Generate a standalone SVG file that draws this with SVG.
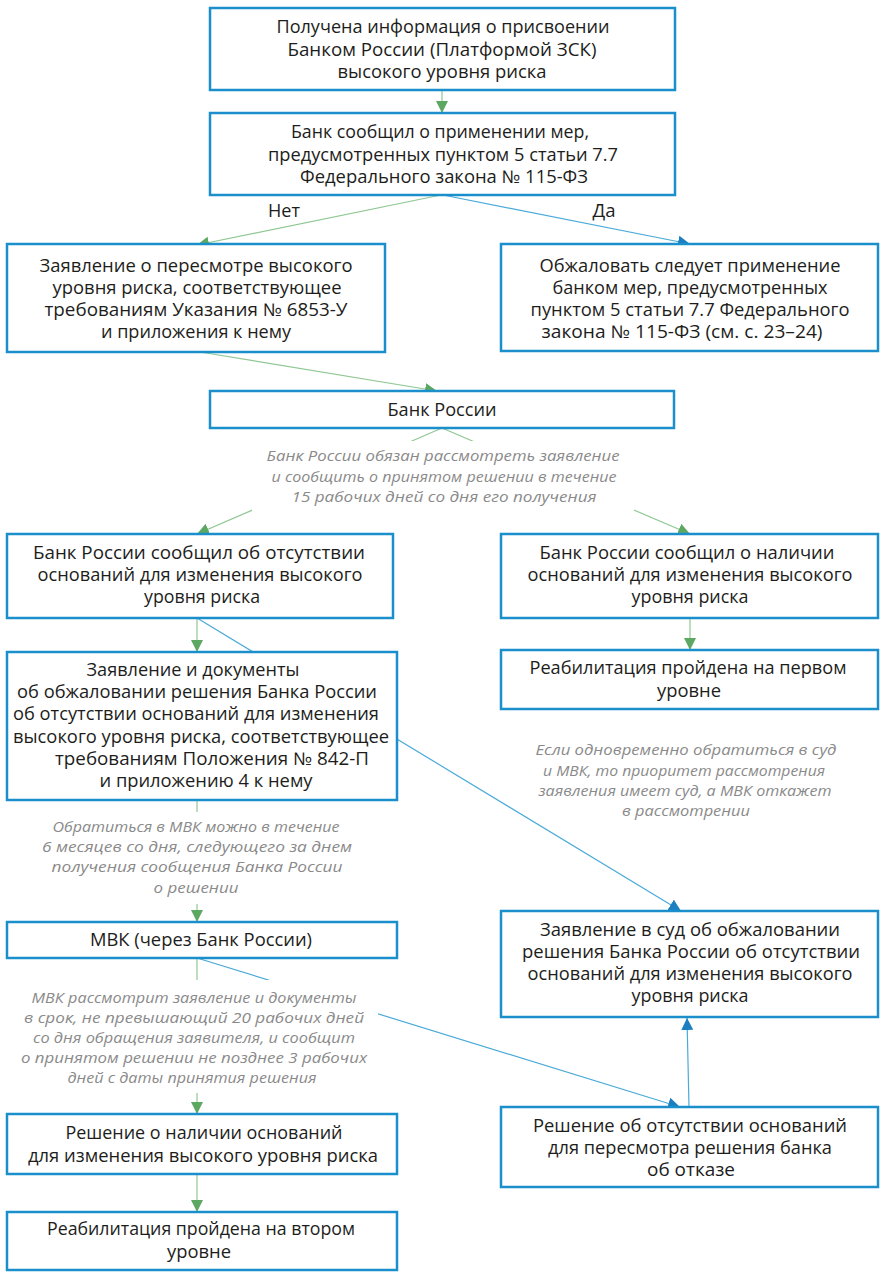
<svg xmlns="http://www.w3.org/2000/svg" width="886" height="1278" viewBox="0 0 886 1278">
<defs>
<style>
.box{fill:#ffffff;stroke:#1b8fcb;stroke-width:2.5}
.t{font-family:"Open Sans","DejaVu Sans",sans-serif;font-size:17.5px;fill:#1d1d1b;text-anchor:middle}
.i{font-family:"Open Sans","DejaVu Sans",sans-serif;font-size:15px;font-style:italic;fill:#8a8a8a;text-anchor:middle}
.g{stroke:#8fc893;stroke-width:1.2;fill:none}
.b{stroke:#4aaad8;stroke-width:1.2;fill:none}
.bg{fill:#ffffff;stroke:none}
</style>
<marker id="ag" viewBox="0 0 12 12" refX="12" refY="6" markerWidth="12" markerHeight="12" markerUnits="userSpaceOnUse" orient="auto">
<path d="M0,0 L12,6 L0,12 z" fill="#5ca862"/>
</marker>
<marker id="ab" viewBox="0 0 12 12" refX="12" refY="6" markerWidth="12" markerHeight="12" markerUnits="userSpaceOnUse" orient="auto">
<path d="M0,0 L12,6 L0,12 z" fill="#1b7fc0"/>
</marker>
</defs>
<rect x="0" y="0" width="886" height="1278" fill="#ffffff"/>

<g id="connectors">
<line class="g" x1="442" y1="90" x2="442" y2="113" marker-end="url(#ag)"/>
<line class="g" x1="441" y1="195" x2="197" y2="245" marker-end="url(#ag)"/>
<line class="b" x1="443" y1="195" x2="690" y2="244" marker-end="url(#ab)"/>
<line class="g" x1="200" y1="352" x2="437" y2="391" marker-end="url(#ag)"/>
<line class="g" x1="442" y1="428" x2="197" y2="534" marker-end="url(#ag)"/>
<line class="g" x1="442" y1="428" x2="690" y2="534" marker-end="url(#ag)"/>
<line class="g" x1="690" y1="618" x2="690" y2="650" marker-end="url(#ag)"/>
<line class="g" x1="197" y1="618" x2="197" y2="652" marker-end="url(#ag)"/>
<line class="b" x1="197" y1="618" x2="681" y2="911" marker-end="url(#ab)"/>
<line class="g" x1="197" y1="800" x2="197" y2="922" marker-end="url(#ag)"/>
<line class="b" x1="197" y1="958" x2="680" y2="1107" marker-end="url(#ab)"/>
<line class="g" x1="197" y1="958" x2="197" y2="1114" marker-end="url(#ag)"/>
<line class="b" x1="689" y1="1107" x2="687" y2="1018" marker-end="url(#ab)"/>
<line class="g" x1="197" y1="1174" x2="197" y2="1212" marker-end="url(#ag)"/>
</g>

<g id="label-yes-no">
<text class="t" x="284" y="217" textLength="32" lengthAdjust="spacingAndGlyphs">Нет</text>
<text class="t" x="604" y="217" textLength="23" lengthAdjust="spacingAndGlyphs">Да</text>
</g>

<g id="note-bank15">
<rect class="bg" x="252" y="441" width="382" height="70"/>
<text class="i" x="443" y="461" textLength="353" lengthAdjust="spacingAndGlyphs">Банк России обязан рассмотреть заявление</text>
<text class="i" x="444" y="482" textLength="345" lengthAdjust="spacingAndGlyphs">и сообщить о принятом решении в течение</text>
<text class="i" x="444" y="502" textLength="305" lengthAdjust="spacingAndGlyphs">15 рабочих дней со дня его получения</text>
</g>

<g id="note-mvk6">
<rect class="bg" x="30" y="812" width="340" height="92"/>
<text class="i" x="196" y="832" textLength="287" lengthAdjust="spacingAndGlyphs">Обратиться в МВК можно в течение</text>
<text class="i" x="197" y="852" textLength="310" lengthAdjust="spacingAndGlyphs">6 месяцев со дня, следующего за днем</text>
<text class="i" x="197" y="872" textLength="291" lengthAdjust="spacingAndGlyphs">получения сообщения Банка России</text>
<text class="i" x="196" y="893" textLength="85" lengthAdjust="spacingAndGlyphs">о решении</text>
</g>

<g id="note-mvk20">
<rect class="bg" x="15" y="980" width="363" height="113"/>
<text class="i" x="194" y="1003" textLength="325" lengthAdjust="spacingAndGlyphs">МВК рассмотрит заявление и документы</text>
<text class="i" x="194" y="1023" textLength="340" lengthAdjust="spacingAndGlyphs">в срок, не превышающий 20 рабочих дней</text>
<text class="i" x="194" y="1043" textLength="322" lengthAdjust="spacingAndGlyphs">со дня обращения заявителя, и сообщит</text>
<text class="i" x="194" y="1063" textLength="346" lengthAdjust="spacingAndGlyphs">о принятом решении не позднее 3 рабочих</text>
<text class="i" x="192" y="1083" textLength="249" lengthAdjust="spacingAndGlyphs">дней с даты принятия решения</text>
</g>

<g id="note-court">
<text class="i" x="686" y="755" textLength="301" lengthAdjust="spacingAndGlyphs">Если одновременно обратиться в суд</text>
<text class="i" x="684" y="776" textLength="282" lengthAdjust="spacingAndGlyphs">и МВК, то приоритет рассмотрения</text>
<text class="i" x="685" y="796" textLength="293" lengthAdjust="spacingAndGlyphs">заявления имеет суд, а МВК откажет</text>
<text class="i" x="686" y="816" textLength="128" lengthAdjust="spacingAndGlyphs">в рассмотрении</text>
</g>

<g id="n1">
<rect class="box" x="210" y="8" width="465" height="82"/>
<text class="t" x="443" y="33" textLength="333" lengthAdjust="spacingAndGlyphs">Получена информация о присвоении</text>
<text class="t" x="442" y="56" textLength="309" lengthAdjust="spacingAndGlyphs">Банком России (Платформой ЗСК)</text>
<text class="t" x="442" y="78" textLength="209" lengthAdjust="spacingAndGlyphs">высокого уровня риска</text>
</g>

<g id="n2">
<rect class="box" x="210" y="113" width="465" height="82"/>
<text class="t" x="440" y="138" textLength="298" lengthAdjust="spacingAndGlyphs">Банк сообщил о применении мер,</text>
<text class="t" x="443" y="161" textLength="350" lengthAdjust="spacingAndGlyphs">предусмотренных пунктом 5 статьи 7.7</text>
<text class="t" x="444" y="183" textLength="288" lengthAdjust="spacingAndGlyphs">Федерального закона № 115-ФЗ</text>
</g>

<g id="n3">
<rect class="box" x="7" y="244" width="378" height="108"/>
<text class="t" x="196" y="272" textLength="313" lengthAdjust="spacingAndGlyphs">Заявление о пересмотре высокого</text>
<text class="t" x="197" y="294" textLength="289" lengthAdjust="spacingAndGlyphs">уровня риска, соответствующее</text>
<text class="t" x="196" y="316" textLength="303" lengthAdjust="spacingAndGlyphs">требованиям Указания № 6853-У</text>
<text class="t" x="196" y="338" textLength="190" lengthAdjust="spacingAndGlyphs">и приложения к нему</text>
</g>

<g id="n4">
<rect class="box" x="501" y="244" width="377" height="107"/>
<text class="t" x="690" y="272" textLength="301" lengthAdjust="spacingAndGlyphs">Обжаловать следует применение</text>
<text class="t" x="690" y="294" textLength="275" lengthAdjust="spacingAndGlyphs">банком мер, предусмотренных</text>
<text class="t" x="690" y="316" textLength="319" lengthAdjust="spacingAndGlyphs">пунктом 5 статьи 7.7 Федерального</text>
<text class="t" x="682" y="338" textLength="281" lengthAdjust="spacingAndGlyphs">закона № 115-ФЗ (см. с. 23–24)</text>
</g>

<g id="n5">
<rect class="box" x="210" y="391" width="464" height="37"/>
<text class="t" x="442" y="416" textLength="109" lengthAdjust="spacingAndGlyphs">Банк России</text>
</g>

<g id="n6">
<rect class="box" x="7" y="534" width="386" height="84"/>
<text class="t" x="199" y="559" textLength="332" lengthAdjust="spacingAndGlyphs">Банк России сообщил об отсутствии</text>
<text class="t" x="200" y="581" textLength="325" lengthAdjust="spacingAndGlyphs">оснований для изменения высокого</text>
<text class="t" x="202" y="603" textLength="116" lengthAdjust="spacingAndGlyphs">уровня риска</text>
</g>

<g id="n7">
<rect class="box" x="501" y="534" width="377" height="84"/>
<text class="t" x="687" y="559" textLength="295" lengthAdjust="spacingAndGlyphs">Банк России сообщил о наличии</text>
<text class="t" x="690" y="581" textLength="325" lengthAdjust="spacingAndGlyphs">оснований для изменения высокого</text>
<text class="t" x="690" y="603" textLength="117" lengthAdjust="spacingAndGlyphs">уровня риска</text>
</g>

<g id="n8">
<rect class="box" x="501" y="650" width="377" height="59"/>
<text class="t" x="688" y="674" textLength="317" lengthAdjust="spacingAndGlyphs">Реабилитация пройдена на первом</text>
<text class="t" x="689" y="697" textLength="64" lengthAdjust="spacingAndGlyphs">уровне</text>
</g>

<g id="n9">
<rect class="box" x="7" y="652" width="390" height="148"/>
<text class="t" x="193" y="676" textLength="213" lengthAdjust="spacingAndGlyphs">Заявление и документы</text>
<text class="t" x="197" y="698" textLength="360" lengthAdjust="spacingAndGlyphs">об обжаловании решения Банка России</text>
<text class="t" x="196" y="720" textLength="366" lengthAdjust="spacingAndGlyphs">об отсутствии оснований для изменения</text>
<text class="t" x="201" y="743" textLength="376" lengthAdjust="spacingAndGlyphs">высокого уровня риска, соответствующее</text>
<text class="t" x="212" y="765" textLength="314" lengthAdjust="spacingAndGlyphs">требованиям Положения № 842-П</text>
<text class="t" x="206" y="787" textLength="213" lengthAdjust="spacingAndGlyphs">и приложению 4 к нему</text>
</g>

<g id="n10">
<rect class="box" x="7" y="922" width="390" height="36"/>
<text class="t" x="201" y="946" textLength="222" lengthAdjust="spacingAndGlyphs">МВК (через Банк России)</text>
</g>

<g id="n11">
<rect class="box" x="7" y="1114" width="390" height="60"/>
<text class="t" x="204" y="1139" textLength="277" lengthAdjust="spacingAndGlyphs">Решение о наличии оснований</text>
<text class="t" x="203" y="1162" textLength="350" lengthAdjust="spacingAndGlyphs">для изменения высокого уровня риска</text>
</g>

<g id="n12">
<rect class="box" x="7" y="1212" width="390" height="58"/>
<text class="t" x="201" y="1235" textLength="308" lengthAdjust="spacingAndGlyphs">Реабилитация пройдена на втором</text>
<text class="t" x="199" y="1258" textLength="64" lengthAdjust="spacingAndGlyphs">уровне</text>
</g>

<g id="n13">
<rect class="box" x="501" y="911" width="377" height="106"/>
<text class="t" x="690" y="936" textLength="300" lengthAdjust="spacingAndGlyphs">Заявление в суд об обжаловании</text>
<text class="t" x="691" y="958" textLength="338" lengthAdjust="spacingAndGlyphs">решения Банка России об отсутствии</text>
<text class="t" x="690" y="980" textLength="325" lengthAdjust="spacingAndGlyphs">оснований для изменения высокого</text>
<text class="t" x="690" y="1002" textLength="117" lengthAdjust="spacingAndGlyphs">уровня риска</text>
</g>

<g id="n14">
<rect class="box" x="501" y="1107" width="377" height="80"/>
<text class="t" x="690" y="1132" textLength="314" lengthAdjust="spacingAndGlyphs">Решение об отсутствии оснований</text>
<text class="t" x="690" y="1154" textLength="284" lengthAdjust="spacingAndGlyphs">для пересмотра решения банка</text>
<text class="t" x="691" y="1176" textLength="88" lengthAdjust="spacingAndGlyphs">об отказе</text>
</g>
</svg>
